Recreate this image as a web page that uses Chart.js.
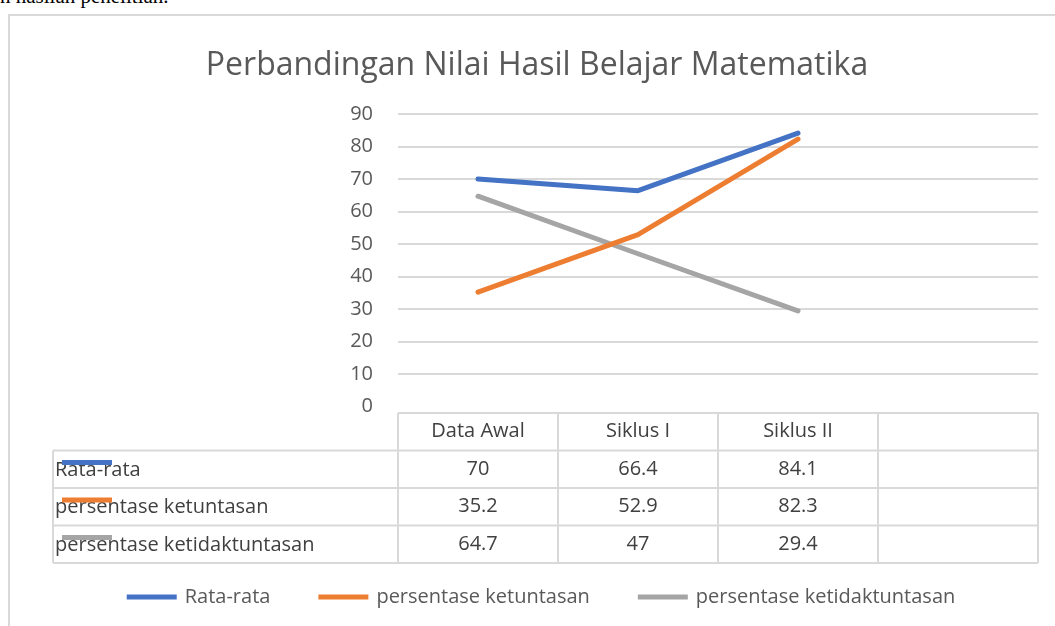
<!DOCTYPE html>
<html lang="id">
<head>
    <meta charset="UTF-8">
    <title>Perbandingan Nilai Hasil Belajar Matematika</title>
    <script src="https://cdn.jsdelivr.net/npm/chart.js"></script>
    <style>
        body {
            margin: 0;
            padding: 0;
            width: 1055px;
            height: 626px;
            overflow: hidden;
            background: #fff;
            position: relative;
        }
        #topText {
            position: absolute;
            left: 0;
            top: -16px;
            font-family: "Liberation Serif", serif;
            font-size: 21px;
            color: #000;
            white-space: nowrap;
        }
        #frame {
            position: absolute;
            left: 8px;
            top: 14px;
            width: 1070px;
            height: 640px;
            border: 2px solid #d9d9d9;
        }
        canvas {
            position: absolute;
            left: 0;
            top: 0;
        }
    </style>
</head>
<body>
    <div id="topText">n hasilan penelitian.</div>
    <div id="frame"></div>
    <canvas id="chart" width="1055" height="626"></canvas>

    <script>
        // data from the table under the chart
        const categories = ['Data Awal', 'Siklus I', 'Siklus II', ''];
        const rataRata = [70, 66.4, 84.1, null];
        const ketuntasan = [35.2, 52.9, 82.3, null];
        const ketidaktuntasan = [64.7, 47, 29.4, null];
        const seriesNames = ['Rata-rata', 'persentase ketuntasan', 'persentase ketidaktuntasan'];
        const seriesColors = ['#4472C4', '#ED7D31', '#A5A5A5'];
        const yMin = 0, yMax = 90, yStep = 10;
        const chartTitle = 'Perbandingan Nilai Hasil Belajar Matematika';

        const FONT = '"Open Sans", "Noto Sans", sans-serif';
        const textColor = '#595959';
        const lineColor = '#d9d9d9';

        // draws title, data table and bottom legend
        const tablePlugin = {
            id: 'tablePlugin',
            afterDraw(chart) {
                const ctx = chart.ctx;
                const area = chart.chartArea;
                const xs = chart.scales.x;
                const colW = (area.right - area.left) / categories.length;
                const top = area.bottom + 6.5;
                const rowH = 37.5;
                const rowLeft = 53;
                const nRows = chart.data.datasets.length + 1;

                ctx.save();
                // title
                ctx.fillStyle = textColor;
                ctx.font = '32px ' + FONT;
                ctx.textAlign = 'center';
                ctx.textBaseline = 'middle';
                ctx.fillText(chartTitle, 537, 66);

                // table lines
                ctx.strokeStyle = lineColor;
                ctx.lineWidth = 2;
                ctx.beginPath();
                ctx.moveTo(area.left, top);
                ctx.lineTo(area.right, top);
                for (let r = 1; r <= nRows; r++) {
                    ctx.moveTo(rowLeft, top + r * rowH);
                    ctx.lineTo(area.right, top + r * rowH);
                }
                ctx.moveTo(rowLeft, top + rowH);
                ctx.lineTo(rowLeft, top + nRows * rowH);
                for (let c = 0; c <= categories.length; c++) {
                    const x = area.left + c * colW;
                    ctx.moveTo(x, top);
                    ctx.lineTo(x, top + nRows * rowH);
                }
                ctx.stroke();

                // header and values
                ctx.font = '20px ' + FONT;
                ctx.fillStyle = '#404040';
                categories.forEach((cat, i) => {
                    const cx = xs.getPixelForValue(i);
                    ctx.textAlign = 'center';
                    ctx.fillText(cat, cx, top + rowH / 2);
                    chart.data.datasets.forEach((ds, d) => {
                        const v = ds.data[i];
                        if (v !== null) ctx.fillText(String(v), cx, top + (d + 1.5) * rowH);
                    });
                });

                // row labels with legend keys
                chart.data.datasets.forEach((ds, d) => {
                    const rowTop = top + (d + 1) * rowH;
                    ctx.textAlign = 'left';
                    ctx.fillStyle = '#404040';
                    ctx.fillText(ds.label, 55, rowTop + rowH / 2 + 1);
                    ctx.strokeStyle = ds.borderColor;
                    ctx.lineWidth = 5;
                    ctx.beginPath();
                    ctx.moveTo(62, rowTop + 12);
                    ctx.lineTo(112, rowTop + 12);
                    ctx.stroke();
                });

                // bottom legend
                ctx.font = '20px ' + FONT;
                const keyW = 50, keyGap = 8, itemGap = 48, legendY = 597;
                const widths = chart.data.datasets.map(ds => keyW + keyGap + ctx.measureText(ds.label).width);
                const total = widths.reduce((a, b) => a + b, 0) + itemGap * (widths.length - 1);
                let x = 541 - total / 2;
                chart.data.datasets.forEach((ds, d) => {
                    ctx.strokeStyle = ds.borderColor;
                    ctx.lineWidth = 5;
                    ctx.beginPath();
                    ctx.moveTo(x, legendY);
                    ctx.lineTo(x + keyW, legendY);
                    ctx.stroke();
                    ctx.fillStyle = textColor;
                    ctx.textAlign = 'left';
                    ctx.fillText(ds.label, x + keyW + keyGap, legendY);
                    x += widths[d] + itemGap;
                });
                ctx.restore();
            }
        };

        const seriesData = [rataRata, ketuntasan, ketidaktuntasan];

        new Chart(document.getElementById('chart').getContext('2d'), {
            type: 'line',
            data: {
                labels: categories,
                datasets: seriesData.map((values, i) => ({
                    label: seriesNames[i],
                    data: values,
                    borderColor: seriesColors[i],
                    backgroundColor: seriesColors[i],
                    borderWidth: 5,
                    borderCapStyle: 'round',
                    borderJoinStyle: 'round',
                    pointRadius: 0,
                    tension: 0,
                    fill: false
                }))
            },
            options: {
                responsive: false,
                animation: false,
                layout: {
                    padding: { left: 0, right: 17, top: 114, bottom: 219.5 }
                },
                plugins: {
                    legend: { display: false },
                    title: { display: false },
                    tooltip: { enabled: false }
                },
                scales: {
                    x: {
                        display: false,
                        offset: true
                    },
                    y: {
                        min: yMin,
                        max: yMax,
                        afterFit(scale) { scale.width = 398; },
                        border: { display: false },
                        grid: {
                            drawTicks: false,
                            lineWidth: 2,
                            color: c => c.tick && c.tick.value === 0 ? 'rgba(0,0,0,0)' : lineColor
                        },
                        ticks: {
                            stepSize: yStep,
                            padding: 25,
                            color: textColor,
                            font: { family: FONT, size: 20 }
                        }
                    }
                }
            },
            plugins: [tablePlugin]
        });
    </script>
</body>
</html>
